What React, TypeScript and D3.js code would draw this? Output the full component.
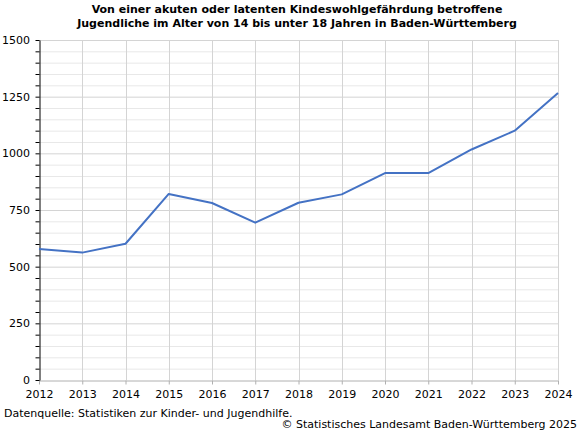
// @ts-nocheck
import { useEffect, useRef } from "react"
import * as d3 from "d3"

const years = [2012, 2013, 2014, 2015, 2016, 2017, 2018, 2019, 2020, 2021, 2022, 2023, 2024]
const cases = [578, 562, 601, 821, 781, 694, 782, 819, 913, 913, 1017, 1100, 1266]
const yTicks = [0, 250, 500, 750, 1000, 1250, 1500]
const titleLines = [
  "Von einer akuten oder latenten Kindeswohlgefährdung betroffene",
  "Jugendliche im Alter von 14 bis unter 18 Jahren in Baden-Württemberg",
]
const sourceText = "Datenquelle: Statistiken zur Kinder- und Jugendhilfe."
const copyrightText = "© Statistisches Landesamt Baden-Württemberg 2025"

export default function App() {
  const svgRef = useRef<SVGSVGElement>(null)

  useEffect(() => {
    if (!svgRef.current) return
    const width = 581
    const height = 430
    const font = "Verdana, 'DejaVu Sans', sans-serif"

    const svg = d3.select(svgRef.current)
    svg.selectAll("*").remove()
    svg.attr("width", width).attr("height", height)

    const x = d3.scaleLinear().domain([2012, 2024]).range([39, 558])
    const y = d3.scaleLinear().domain([0, 1500]).range([380, 40])

    // minor grid every 50
    svg
      .append("g")
      .selectAll("line")
      .data(d3.range(50, 1500, 50).filter((v) => v % 250 !== 0))
      .join("line")
      .attr("x1", x(2012))
      .attr("x2", x(2024))
      .attr("y1", (d) => y(d) + 0.5)
      .attr("y2", (d) => y(d) + 0.5)
      .attr("stroke", "#e8e8e8")
      .attr("stroke-width", 1)

    // major grid
    svg
      .append("g")
      .selectAll("line")
      .data(yTicks.slice(1))
      .join("line")
      .attr("x1", x(2012))
      .attr("x2", x(2024))
      .attr("y1", (d) => y(d) + 0.5)
      .attr("y2", (d) => y(d) + 0.5)
      .attr("stroke", "#d4d4d4")

    // vertical grid
    svg
      .append("g")
      .selectAll("line")
      .data(years.slice(1))
      .join("line")
      .attr("x1", (d) => Math.round(x(d)) + 0.5)
      .attr("x2", (d) => Math.round(x(d)) + 0.5)
      .attr("y1", y(1500))
      .attr("y2", y(0))
      .attr("stroke", "#d4d4d4")

    // x axis
    const xAxis = svg
      .append("g")
      .attr("transform", `translate(0,${y(0) + 0.5})`)
      .call(
        d3
          .axisBottom(x)
          .tickValues(years)
          .tickFormat(d3.format("d"))
          .tickSize(4)
          .tickSizeOuter(0)
      )
    xAxis.select(".domain").attr("stroke", "#b0b0b0")
    xAxis.selectAll(".tick line").attr("stroke", "#b0b0b0")
    xAxis
      .selectAll("text")
      .attr("font-family", font)
      .attr("font-size", 11)
      .attr("fill", "#000")
      .attr("dy", "0.95em")

    // y axis
    const yAxis = svg
      .append("g")
      .attr("transform", `translate(${x(2012) + 0.5},0)`)
      .call(d3.axisLeft(y).tickValues(d3.range(0, 1501, 50)).tickFormat("").tickSize(4).tickSizeOuter(0))
    yAxis.select(".domain").attr("stroke", "#000")
    yAxis.selectAll(".tick line").attr("stroke", "#000")

    svg
      .append("g")
      .selectAll("text")
      .data(yTicks)
      .join("text")
      .attr("x", 30)
      .attr("y", (d) => y(d))
      .attr("dy", "0.35em")
      .attr("text-anchor", "end")
      .attr("font-family", font)
      .attr("font-size", 11)
      .text((d) => d)

    // line
    const line = d3
      .line()
      .x((d, i) => x(years[i]))
      .y((d) => y(d))
    svg
      .append("path")
      .datum(cases)
      .attr("d", line)
      .attr("fill", "none")
      .attr("stroke", "#4472c4")
      .attr("stroke-width", 2)
      .attr("stroke-linejoin", "round")

    // title
    svg
      .append("g")
      .selectAll("text")
      .data(titleLines)
      .join("text")
      .attr("x", 297)
      .attr("y", (d, i) => 13 + i * 14)
      .attr("text-anchor", "middle")
      .attr("font-family", font)
      .attr("font-size", 11)
      .attr("font-weight", "bold")
      .text((d) => d)

    svg
      .append("text")
      .attr("x", 4)
      .attr("y", 417)
      .attr("font-family", font)
      .attr("font-size", 11)
      .text(sourceText)

    svg
      .append("text")
      .attr("x", 577)
      .attr("y", 428)
      .attr("text-anchor", "end")
      .attr("font-family", font)
      .attr("font-size", 11)
      .text(copyrightText)
  }, [])

  return (
    <div style={{ position: "absolute", left: 0, top: 0, background: "#fff" }}>
      <svg ref={svgRef} style={{ display: "block" }} />
    </div>
  )
}
